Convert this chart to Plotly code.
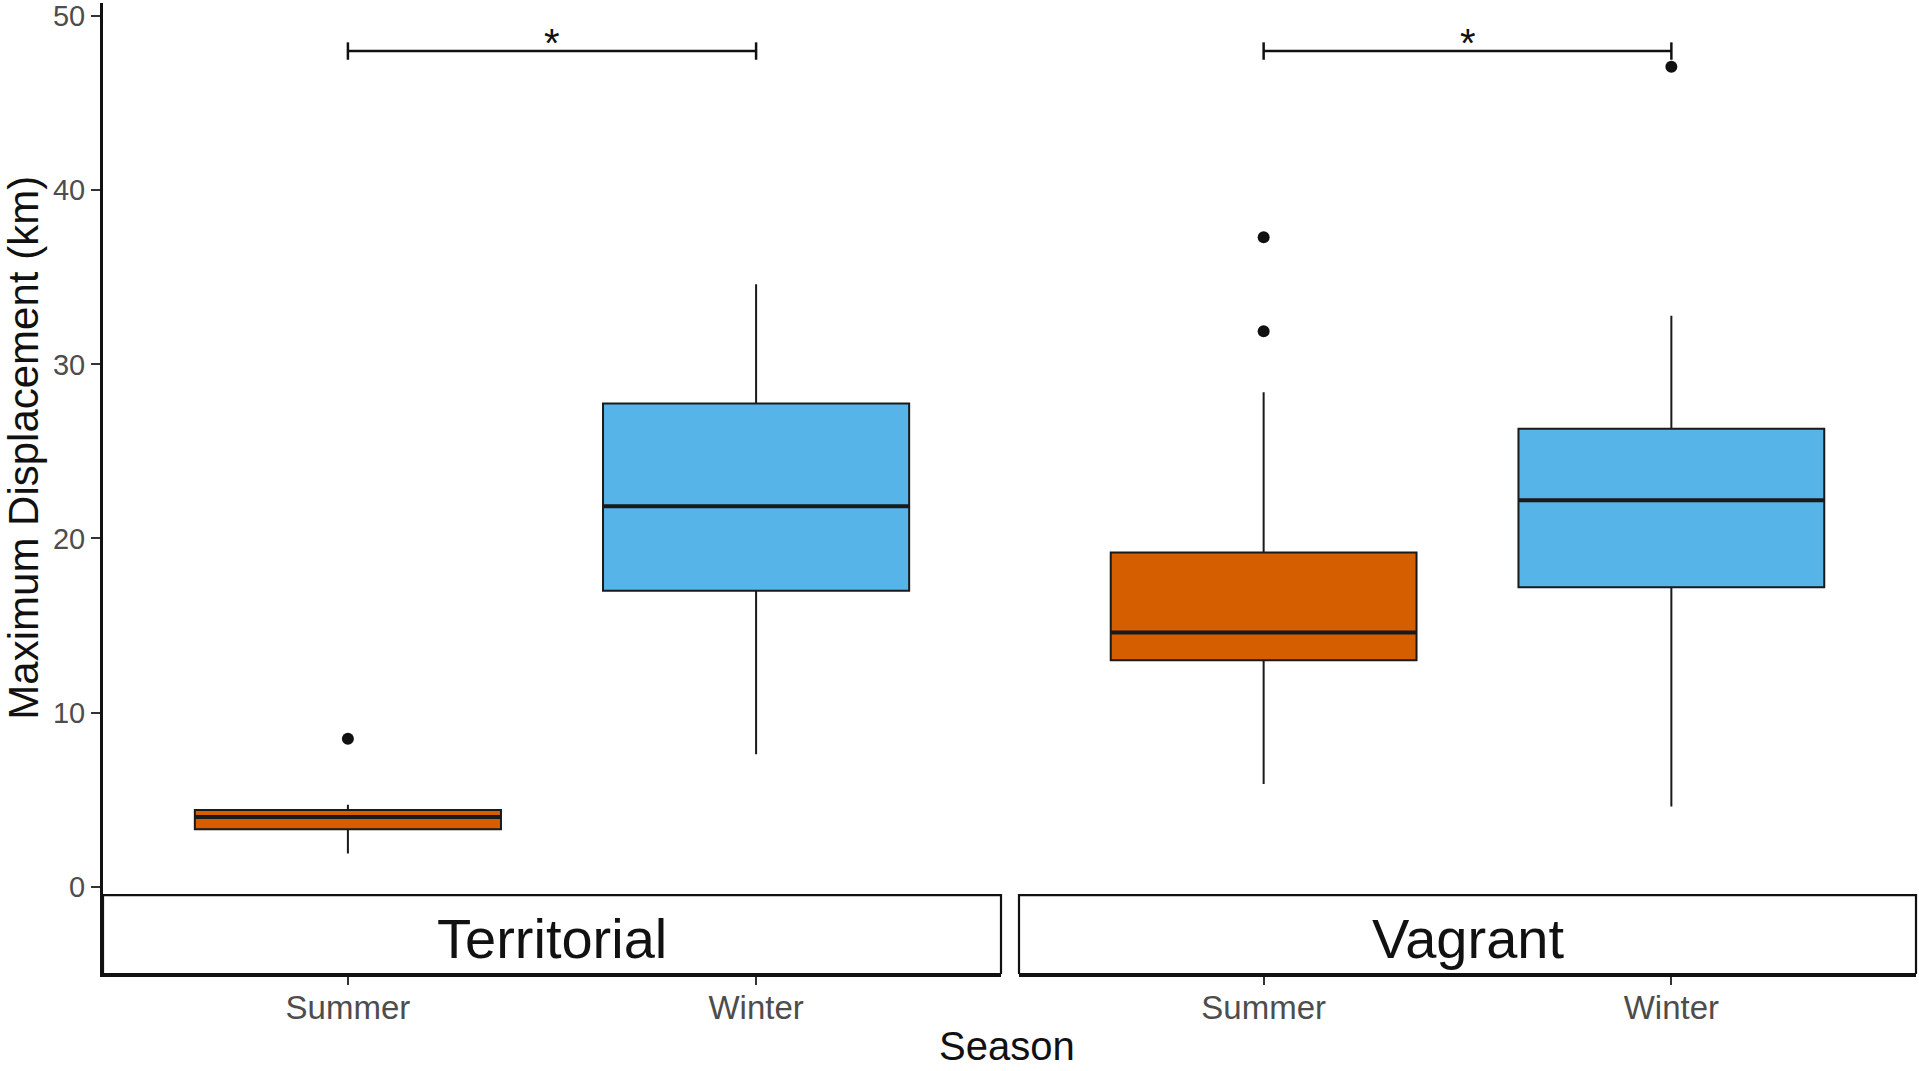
import plotly.graph_objects as go

# ---- data ----
groups = ["Territorial", "Territorial", "Vagrant", "Vagrant"]
seasons = ["Summer", "Winter", "Summer", "Winter"]
lower_whisker = [1.9, 7.6, 5.9, 4.6]
q1_vals = [3.3, 17.0, 13.0, 17.2]
median_vals = [4.0, 21.85, 14.6, 22.2]
q3_vals = [4.4, 27.75, 19.2, 26.3]
upper_whisker = [4.7, 34.6, 28.4, 32.8]

outlier_group = ["Territorial", "Vagrant", "Vagrant", "Vagrant"]
outlier_season = ["Summer", "Summer", "Summer", "Winter"]
outlier_vals = [8.5, 37.3, 31.9, 47.1]

panels = ["Territorial", "Vagrant"]
season_order = ["Summer", "Winter"]
season_colors = {"Summer": "#D55E00", "Winter": "#56B4E9"}

sig_group = ["Territorial", "Vagrant"]
sig_y = [48, 48]
sig_label = ["*", "*"]

y_ticks = [0, 10, 20, 30, 40, 50]

# ---- layout constants ----
W, H = 1919, 1071
ML, MR, MT, MB = 103, 3, 0, 97
FONT = "Liberation Sans, Arial, sans-serif"
Y_RANGE = [-5.02, 50.76]
STRIP_TOP = -0.49
BOX_W = 0.75

axis_map = {"Territorial": ("x", "y"), "Vagrant": ("x2", "y2")}

fig = go.Figure()

for g, s, lo, a, m, b, hi in zip(groups, seasons, lower_whisker, q1_vals,
                                 median_vals, q3_vals, upper_whisker):
    xa, ya = axis_map[g]
    fig.add_trace(go.Box(
        x=[s], q1=[a], median=[m], q3=[b], lowerfence=[lo], upperfence=[hi],
        xaxis=xa, yaxis=ya, width=BOX_W, whiskerwidth=0,
        fillcolor=season_colors[s], line=dict(color="#1a1a1a", width=2),
        boxpoints=False, showlegend=False, name=s,
    ))
    # thicker median line (ggplot style)
    i = season_order.index(s)
    fig.add_shape(type="line", xref=xa, yref=ya,
                  x0=i - BOX_W / 2, x1=i + BOX_W / 2, y0=m, y1=m,
                  line=dict(color="#1a1a1a", width=4))

for g in panels:
    xa, ya = axis_map[g]
    xs = [s for gg, s in zip(outlier_group, outlier_season) if gg == g]
    ys = [v for gg, v in zip(outlier_group, outlier_vals) if gg == g]
    fig.add_trace(go.Scatter(x=xs, y=ys, mode="markers", xaxis=xa, yaxis=ya,
                             marker=dict(color="#111111", size=12),
                             showlegend=False, hoverinfo="y"))

# significance brackets
for g, yv, lab in zip(sig_group, sig_y, sig_label):
    xa, ya = axis_map[g]
    s0, s1 = season_order
    fig.add_trace(go.Scatter(
        x=[s0, s0, None, s0, s1, None, s1, s1],
        y=[yv - 0.5, yv + 0.5, None, yv, yv, None, yv - 0.5, yv + 0.5],
        mode="lines", xaxis=xa, yaxis=ya,
        line=dict(color="#111111", width=2.5),
        showlegend=False, hoverinfo="skip"))
    fig.add_annotation(x=0.5, y=yv, xref=xa, yref=ya, text=lab,
                       showarrow=False, yanchor="bottom", yshift=-16,
                       font=dict(family=FONT, size=40, color="#111111"))

# strips (facet labels, at the bottom of each panel)
for g in panels:
    xa, ya = axis_map[g]
    fig.add_shape(type="rect", xref=f"{xa} domain", yref=ya,
                  x0=0, x1=1, y0=Y_RANGE[0], y1=STRIP_TOP,
                  fillcolor="white", line=dict(color="#111111", width=2.2),
                  layer="below")
    fig.add_annotation(x=0.5, y=(Y_RANGE[0] + STRIP_TOP) / 2,
                       xref=f"{xa} domain", yref=ya, text=g, showarrow=False,
                       yanchor="middle", yshift=-4,
                       font=dict(family=FONT, size=56, color="#111111"))

tickfont = dict(family=FONT, size=33, color="#4D4D4D")
xcommon = dict(type="category", categoryorder="array", categoryarray=season_order,
               range=[-0.6, 1.6], showline=True, linecolor="#111111", linewidth=3,
               ticks="outside", ticklen=8, tickwidth=1.5, tickcolor="#333333",
               tickfont=tickfont, ticklabelstandoff=-6,
               showgrid=False, zeroline=False, fixedrange=True)
pw = W - ML - MR
fig.update_layout(
    width=W, height=H,
    margin=dict(l=ML, r=MR, t=MT, b=MB),
    paper_bgcolor="white", plot_bgcolor="white",
    font=dict(family=FONT),
    xaxis=dict(domain=[0, (1001 - ML) / pw], anchor="y", **xcommon),
    xaxis2=dict(domain=[(1019 - ML) / pw, 1], anchor="y2", **xcommon),
    yaxis=dict(range=Y_RANGE, anchor="x", tickvals=y_ticks,
               showline=True, linecolor="#111111", linewidth=3,
               ticks="outside", ticklen=9, tickwidth=1.5, tickcolor="#333333",
               tickfont=dict(family=FONT, size=29, color="#4D4D4D"),
               ticklabeloverflow="allow",
               showgrid=False, zeroline=False),
    yaxis2=dict(range=Y_RANGE, anchor="x2", matches="y", showticklabels=False,
                showline=False, ticks="", showgrid=False, zeroline=False),
    showlegend=False,
)

# axis titles
fig.add_annotation(x=(1007 - ML) / pw, y=(974 - 1070) / 974, xref="paper", yref="paper",
                   text="Season", showarrow=False, yanchor="bottom",
                   font=dict(family=FONT, size=40, color="#111111"))
fig.add_annotation(x=(24 - ML) / pw, y=(974 - 446) / 974, xref="paper", yref="paper",
                   text="Maximum Displacement (km)", textangle=-90, showarrow=False,
                   xanchor="center", yanchor="middle",
                   font=dict(family=FONT, size=42, color="#111111"))

fig.write_html(
    "out.html",
    config={"displayModeBar": False},
    post_script="document.body.style.margin='0';document.body.style.overflow='hidden';",
)
